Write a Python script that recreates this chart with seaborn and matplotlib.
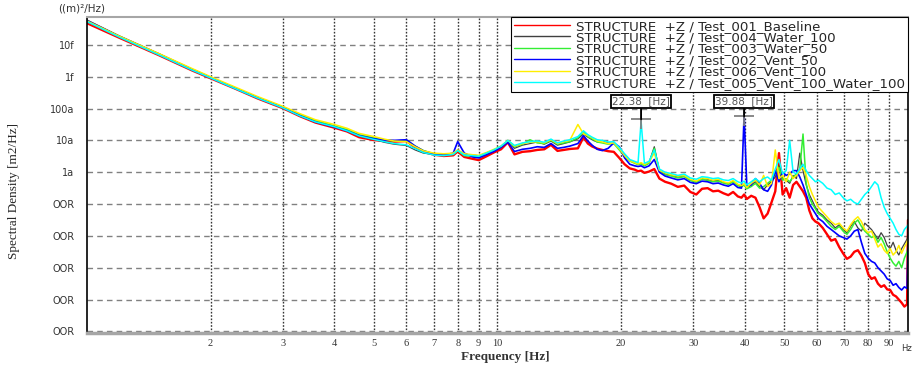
import numpy as np
import pandas as pd
import matplotlib
matplotlib.use("Agg")
import matplotlib.pyplot as plt
import matplotlib.ticker as mticker
import seaborn as sns

# frequencias [Hz]
freq = [1.0, 1.2, 1.5, 1.8, 2.0, 2.3, 2.6, 3.0, 3.3, 3.6, 4.0, 4.3, 4.6, 5.0, 5.3, 5.6, 6.0, 6.3, 6.6, 7.0,
        7.4, 7.8, 8.0, 8.3, 8.7, 9.0, 9.4, 9.8,
        10.2, 10.6, 11.0, 11.5, 12.0, 12.5, 13.0, 13.5, 14.0, 14.5, 15.0, 15.7, 16.2, 16.6, 17.0, 17.5, 18.0,
        18.6, 19.2, 19.8,
        20.4, 21.0, 21.6, 22.0, 22.38, 22.8, 23.4, 24.1, 24.8, 25.6, 26.5, 27.5, 28.5, 29.5, 30.5, 31.5, 32.5,
        33.5, 34.5, 35.5, 36.5, 37.5, 38.5, 39.3, 39.88, 40.5,
        41.5, 42.5, 43.5, 44.5, 45.5, 46.5, 47.5, 48.5, 49.5, 50.5, 51.5, 52.5, 53.5, 54.5, 55.5, 56.5, 57.5,
        58.5, 59.5, 60.5, 62, 63.5, 65, 66.5, 68, 69.5, 71, 72.5, 74, 75.5, 77, 78.5, 80, 81.5, 83, 84.5, 86,
        87.5, 89, 90.5, 92, 93.5, 95, 96.5, 98, 99.5, 100]

# log10 da densidade espectral [m2/Hz]
baseline = [-13.32, -13.78, -14.33, -14.80, -15.05, -15.38, -15.68, -15.99, -16.24, -16.44, -16.60, -16.72,
            -16.90, -16.99, -17.02, -17.04, -17.02, -17.22, -17.36, -17.45, -17.49, -17.47, -17.35, -17.52,
            -17.58, -17.62, -17.50, -17.38,
            -17.28, -17.06, -17.44, -17.36, -17.34, -17.30, -17.28, -17.14, -17.33, -17.30, -17.27, -17.25,
            -16.90, -17.10, -17.19, -17.26, -17.30, -17.34, -17.36, -17.55,
            -17.75, -17.88, -17.92, -17.97, -17.95, -18.02, -17.98, -17.90, -18.20, -18.30, -18.36, -18.46,
            -18.42, -18.62, -18.70, -18.52, -18.50, -18.60, -18.58, -18.66, -18.72, -18.62, -18.76, -18.80,
            -18.70, -18.84,
            -18.74, -18.80, -19.10, -19.45, -19.30, -18.95, -18.60, -17.40, -18.70, -18.50, -18.80, -18.40,
            -18.30, -18.45, -18.60, -18.80, -19.20, -19.45, -19.55, -19.60, -19.75, -19.95, -20.15, -20.10,
            -20.35, -20.55, -20.72, -20.65, -20.50, -20.45, -20.62, -20.85, -21.20, -21.35, -21.30, -21.50,
            -21.60, -21.55, -21.68, -21.70, -21.85, -21.90, -22.00, -22.10, -22.22, -22.15, -19.50]

water_100 = [-13.22, -13.72, -14.28, -14.76, -15.02, -15.36, -15.64, -15.96, -16.21, -16.40, -16.55, -16.70,
             -16.86, -16.97, -17.06, -17.12, -17.16, -17.30, -17.40, -17.44, -17.45, -17.42, -17.30, -17.44,
             -17.46, -17.48, -17.40, -17.30,
             -17.22, -17.00, -17.25, -17.15, -17.10, -17.05, -17.12, -17.02, -17.15, -17.10, -17.05, -16.95,
             -16.80, -16.90, -16.98, -17.05, -17.00, -17.08, -17.10, -17.25,
             -17.45, -17.62, -17.70, -17.74, -17.72, -17.78, -17.70, -17.20, -17.95, -18.05, -18.10, -18.15,
             -18.12, -18.25, -18.30, -18.20, -18.22, -18.28, -18.25, -18.32, -18.36, -18.28, -18.40, -18.45,
             -18.38, -18.50,
             -18.40, -18.30, -18.45, -18.55, -18.40, -18.30, -18.15, -17.80, -18.20, -18.25, -18.35, -18.10,
             -18.20, -17.40, -17.95, -18.40, -18.70, -18.90, -19.10, -19.25, -19.35, -19.50, -19.60, -19.75,
             -19.65, -19.80, -19.90, -19.70, -19.55, -19.75, -19.85, -19.60, -19.70, -19.80, -19.95, -20.10,
             -19.90, -20.05, -20.30, -20.40, -20.20, -20.45, -20.60, -20.40, -20.25, -20.10, -20.00]

water_50 = [-13.26, -13.74, -14.30, -14.76, -15.02, -15.36, -15.65, -15.95, -16.18, -16.38, -16.55, -16.66,
            -16.82, -16.92, -16.98, -17.02, -17.00, -17.18, -17.32, -17.42, -17.46, -17.44, -17.32, -17.48,
            -17.50, -17.52, -17.40, -17.30,
            -17.20, -17.02, -17.20, -17.12, -16.98, -17.08, -17.10, -17.00, -17.12, -17.08, -17.04, -16.92,
            -16.72, -16.88, -16.95, -17.05, -17.08, -17.12, -17.10, -17.30,
            -17.50, -17.65, -17.72, -17.76, -17.74, -17.80, -17.72, -17.25, -17.98, -18.08, -18.12, -18.18,
            -18.14, -18.26, -18.32, -18.22, -18.26, -18.30, -18.28, -18.34, -18.38, -18.30, -18.42, -18.46,
            -18.40, -18.52,
            -18.45, -18.35, -18.50, -18.45, -18.35, -18.25, -18.05, -17.85, -18.25, -18.20, -18.30, -18.15,
            -18.05, -17.90, -16.80, -18.35, -18.80, -19.00, -19.15, -19.30, -19.40, -19.55, -19.70, -19.80,
            -19.70, -19.85, -19.95, -19.80, -19.60, -19.50, -19.70, -19.85, -19.95, -20.05, -20.00, -20.20,
            -20.05, -20.25, -20.50, -20.70, -20.85, -20.95, -20.80, -21.00, -20.70, -20.50, -20.40]

vent_50 = [-13.24, -13.74, -14.30, -14.78, -15.03, -15.37, -15.66, -15.97, -16.22, -16.42, -16.58, -16.70,
           -16.85, -16.95, -16.99, -17.00, -16.98, -17.18, -17.33, -17.43, -17.46, -17.40, -17.04, -17.40,
           -17.52, -17.55, -17.45, -17.35,
           -17.22, -17.06, -17.35, -17.28, -17.25, -17.20, -17.22, -17.10, -17.25, -17.22, -17.18, -17.10,
           -16.85, -17.02, -17.15, -17.28, -17.32, -17.25, -17.08, -17.20,
           -17.55, -17.75, -17.80, -17.82, -17.80, -17.86, -17.80, -17.60, -18.00, -18.12, -18.18, -18.24,
           -18.20, -18.32, -18.36, -18.28, -18.30, -18.36, -18.34, -18.40, -18.44, -18.36, -18.48, -18.50,
           -16.20, -18.45,
           -18.40, -18.20, -18.35, -18.55, -18.60, -18.40, -17.95, -18.30, -18.00, -18.10, -18.05, -17.95,
           -17.95, -18.15, -18.40, -18.70, -19.00, -19.15, -19.30, -19.45, -19.55, -19.70, -19.80, -19.90,
           -20.00, -20.05, -20.10, -20.00, -19.85, -19.80, -20.20, -20.55, -20.70, -20.80, -20.85, -21.00,
           -21.10, -21.20, -21.35, -21.40, -21.55, -21.50, -21.62, -21.70, -21.60, -21.65, -20.40]

vent_100 = [-13.25, -13.73, -14.28, -14.74, -15.00, -15.33, -15.62, -15.93, -16.16, -16.35, -16.50, -16.62,
            -16.78, -16.88, -16.96, -17.02, -17.04, -17.20, -17.33, -17.40, -17.42, -17.40, -17.30, -17.42,
            -17.45, -17.47, -17.38, -17.28,
            -17.18, -17.00, -17.18, -17.10, -17.06, -17.04, -17.08, -16.98, -17.10, -17.04, -17.00, -16.50,
            -16.80, -16.85, -16.92, -17.02, -17.05, -17.10, -17.08, -17.26,
            -17.48, -17.64, -17.70, -17.74, -17.70, -17.76, -17.68, -17.40, -17.94, -18.02, -18.08, -18.12,
            -18.10, -18.22, -18.28, -18.18, -18.20, -18.25, -18.22, -18.30, -18.34, -18.26, -18.38, -18.42,
            -18.36, -18.48,
            -18.35, -18.25, -18.40, -18.10, -18.45, -18.35, -17.30, -18.20, -18.10, -18.30, -18.00, -18.20,
            -18.10, -17.95, -17.85, -18.10, -18.45, -18.70, -18.90, -19.10, -19.25, -19.40, -19.55, -19.65,
            -19.60, -19.75, -19.85, -19.65, -19.50, -19.40, -19.55, -19.80, -19.90, -19.85, -20.10, -20.35,
            -20.25, -20.45, -20.55, -20.40, -20.60, -20.50, -20.30, -20.55, -20.35, -20.20, -20.10]

vent_100_water_100 = [-13.27, -13.76, -14.32, -14.79, -15.04, -15.38, -15.67, -15.98, -16.23, -16.42, -16.57,
                      -16.70, -16.86, -16.97, -17.04, -17.10, -17.14, -17.26, -17.38, -17.46, -17.48, -17.44,
                      -17.32, -17.46, -17.48, -17.50, -17.40, -17.30,
                      -17.18, -17.00, -17.16, -17.08, -17.04, -17.02, -17.06, -16.96, -17.08, -17.02, -16.98,
                      -16.88, -16.70, -16.82, -16.90, -16.98, -17.00, -17.05, -17.04, -17.22,
                      -17.42, -17.60, -17.66, -17.70, -16.40, -17.72, -17.66, -17.30, -17.90, -18.00, -18.04,
                      -18.10, -18.06, -18.18, -18.22, -18.14, -18.16, -18.20, -18.18, -18.24, -18.26, -18.20,
                      -18.30, -18.34, -18.28, -18.40,
                      -18.30, -18.20, -18.30, -18.20, -18.15, -18.25, -17.90, -17.60, -18.05, -17.95, -17.00,
                      -18.00, -18.05, -17.90, -17.75, -17.95, -18.10, -18.20, -18.30, -18.25, -18.35, -18.50,
                      -18.55, -18.70, -18.65, -18.80, -18.90, -18.85, -18.95, -19.00, -18.85, -18.70, -18.60,
                      -18.45, -18.30, -18.40, -18.80, -19.10, -19.30, -19.45, -19.60, -19.80, -19.95, -20.00,
                      -19.80, -19.70, -19.65]

curvas = ["STRUCTURE  +Z / Test_001_Baseline",
          "STRUCTURE  +Z / Test_004_Water_100",
          "STRUCTURE  +Z / Test_003_Water_50",
          "STRUCTURE  +Z / Test_002_Vent_50",
          "STRUCTURE  +Z / Test_006_Vent_100",
          "STRUCTURE  +Z / Test_005_Vent_100_Water_100"]
cores = ["#ff0000", "#404040", "#33ee33", "#0000ff", "#ffee00", "#00ffff"]
larguras = [1.7, 0.9, 1.1, 1.2, 1.1, 1.1]

y_ticks = [1e-14, 1e-15, 1e-16, 1e-17, 1e-18, 1e-19, 1e-20, 1e-21, 1e-22, 1e-23]
y_labels = ["10f", "1f", "100a", "10a", "1a", "OOR", "OOR", "OOR", "OOR", "OOR"]
x_ticks = [2, 3, 4, 5, 6, 7, 8, 9, 10, 20, 30, 40, 50, 60, 70, 80, 90]

# picos marcados (freq, nivel log10 do cursor)
picos = [(22.38, -16.34), (39.88, -16.25)]

sns.set_style("white")
plt.rcParams['font.family'] = ['DejaVu Sans']

linhas = []
for nome, vals in zip(curvas, [baseline, water_100, water_50, vent_50, vent_100, vent_100_water_100]):
    for f, v in zip(freq, vals):
        linhas.append((f, 10 ** v, nome))
df = pd.DataFrame(linhas, columns=["freq", "psd", "curva"])

fig = plt.figure(figsize=(9.13, 3.67), dpi=100)
ax = fig.add_axes([0.0953, 0.0926, 0.8992, 0.8611])

sns.lineplot(data=df, x="freq", y="psd", hue="curva", hue_order=curvas,
             palette=dict(zip(curvas, cores)), estimator=None, sort=False, ax=ax)
for ln, lw in zip(ax.get_lines(), larguras):
    ln.set_linewidth(lw)

ax.set_xscale("log")
ax.set_yscale("log")
ax.set_xlim(1, 100)
ax.set_ylim(10 ** -23.05, 10 ** -13.125)

ax.set_xticks(x_ticks)
ax.set_xticklabels([str(t) for t in x_ticks], fontsize=7.5, family="Liberation Serif", color="#333333")
ax.xaxis.set_minor_locator(mticker.NullLocator())
ax.set_yticks(y_ticks)
ax.set_yticklabels(y_labels, fontsize=7, color="#333333")
ax.yaxis.set_minor_locator(mticker.LogLocator(base=10, subs=np.arange(2, 10), numticks=20))
ax.yaxis.set_minor_formatter(mticker.NullFormatter())
ax.tick_params(axis="y", which="major", direction="out", length=7, width=1, pad=2)
ax.tick_params(axis="y", which="minor", direction="out", length=4, width=0.7, color="#555555")
ax.tick_params(axis="x", which="major", direction="out", length=2, pad=2)

ax.grid(axis="y", which="major", color="#808080", linestyle=(0, (4, 3)), linewidth=1)
ax.grid(axis="x", which="major", color="#333333", linestyle=(0, (1.2, 1.2)), linewidth=1)

ax.spines["left"].set_color("black")
ax.spines["left"].set_linewidth(1.2)
ax.spines["bottom"].set_color("#a6a6a6")
ax.spines["bottom"].set_linewidth(2.5)
ax.spines["top"].set_color("#a6a6a6")
ax.spines["top"].set_linewidth(1.5)
ax.spines["right"].set_color("black")
ax.spines["right"].set_linewidth(1.2)

# cursores dos picos
for f, nivel in picos:
    ax.annotate(f"{f:.2f}  [Hz]", xy=(f, 10 ** nivel), xytext=(f, 10 ** -15.78),
                ha="center", va="center", fontsize=7.5, color="#555555",
                bbox=dict(boxstyle="square,pad=0.12", fc="white", ec="black", lw=1.3),
                arrowprops=dict(arrowstyle="-", color="black", lw=1.3, shrinkA=0, shrinkB=0))
    ax.plot([f], [10 ** nivel], marker="+", markersize=14, mew=1.3, color="#808080")

handles, labels = ax.get_legend_handles_labels()
leg = ax.legend(handles, labels, loc="upper right", bbox_to_anchor=(1.0, 1.0), frameon=True,
                fancybox=False, edgecolor="black", framealpha=1, fontsize=9.6, handlelength=4.2,
                labelspacing=-0.12, borderpad=0.2, handletextpad=0.5, borderaxespad=0.0)
leg.get_frame().set_linewidth(0.8)
for h in leg.get_lines():
    h.set_linewidth(1.0)

ax.set_xlabel("")
ax.set_ylabel("")
fig.text(0.015, 0.48, "Spectral Density [m2/Hz]", rotation=90, ha="center", va="center",
         fontsize=9.5, family="Liberation Serif")
fig.text(0.554, 0.027, "Frequency [Hz]", ha="center", va="center", fontsize=9.5,
         family="Liberation Serif", weight="bold", color="#333333")
fig.text(0.089, 0.977, "((m)²/Hz)", ha="center", va="center", fontsize=7.5, color="#333333")
fig.text(0.993, 0.05, "Hz", ha="center", va="center", fontsize=6, color="#333333")

fig.savefig("out.png", dpi=100)
